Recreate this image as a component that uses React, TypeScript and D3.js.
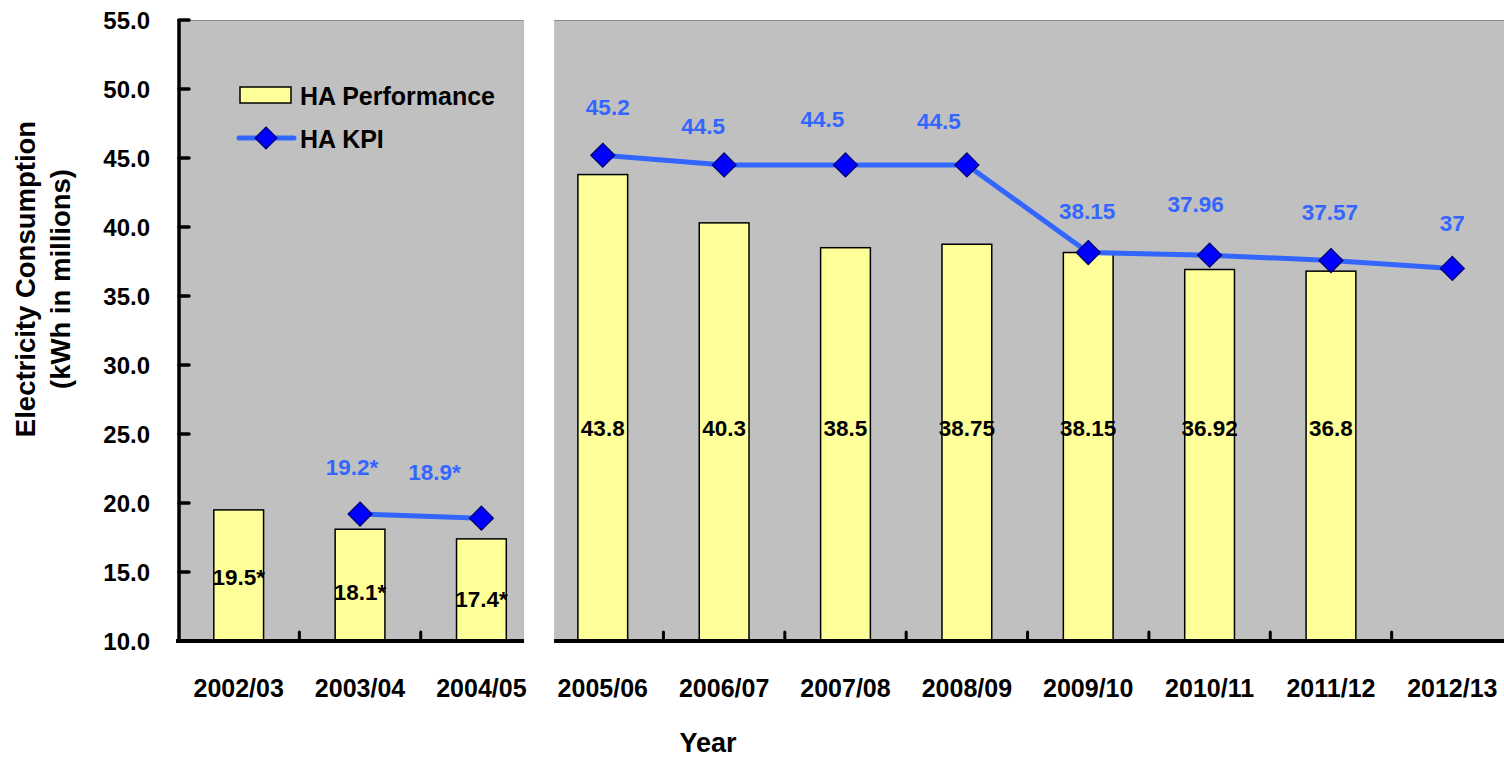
import { useEffect, useRef } from "react";
import * as d3 from "d3";

const W = 1504;
const H = 758;

const years = [
  "2002/03", "2003/04", "2004/05", "2005/06", "2006/07", "2007/08",
  "2008/09", "2009/10", "2010/11", "2011/12", "2012/13",
];
const performance = [19.5, 18.1, 17.4, 43.8, 40.3, 38.5, 38.75, 38.15, 36.92, 36.8, null];
const performanceLabels = ["19.5*", "18.1*", "17.4*", "43.8", "40.3", "38.5", "38.75", "38.15", "36.92", "36.8", ""];
const kpi = [null, 19.2, 18.9, 45.2, 44.5, 44.5, 44.5, 38.15, 37.96, 37.57, 37];
const kpiLabels = ["", "19.2*", "18.9*", "45.2", "44.5", "44.5", "44.5", "38.15", "37.96", "37.57", "37"];
const yTicks = [10, 15, 20, 25, 30, 35, 40, 45, 50, 55];

// the old (starred) years and the new series are drawn as two separate panels
const splitAfter = 2;

// hand-placed label offsets, as in the source chart
const kpiNudge: [number, number][] = [
  [0, 0], [-8, -47], [-47, -46], [5, -48], [-21, -39], [-23, -46],
  [-28, -44], [-1, -41], [-14, -51], [-1, -48], [0, -45],
];

const FONT = "'Liberation Sans', Arial, sans-serif";
const BLUE = "#3366FF";

export default function App() {
  const ref = useRef<SVGSVGElement | null>(null);

  useEffect(() => {
    const svg = d3.select(ref.current);
    svg.selectAll("*").remove();

    const left = 178;
    const top = 20;
    const bottom = 641;

    const x = d3.scaleBand<string>().domain(years).range([left, 1513]).padding(0);
    const y = d3.scaleLinear().domain([10, 55]).range([bottom, top]);
    const cx = (i: number) => (x(years[i]) ?? 0) + x.bandwidth() / 2;
    const barW = x.bandwidth() * 0.41;

    const g = svg.append("g").attr("font-family", FONT).attr("font-weight", "bold");

    // plot background
    g.append("rect")
      .attr("x", left)
      .attr("y", top)
      .attr("width", W - left)
      .attr("height", bottom - top)
      .attr("fill", "#C0C0C0");
    g.append("line")
      .attr("x1", left)
      .attr("x2", W)
      .attr("y1", top + 0.5)
      .attr("y2", top + 0.5)
      .attr("stroke", "#8c8c8c")
      .attr("stroke-width", 1);

    // bars
    performance.forEach((v, i) => {
      if (v == null) return;
      g.append("rect")
        .attr("x", cx(i) - barW / 2)
        .attr("y", y(v))
        .attr("width", barW)
        .attr("height", bottom - y(v))
        .attr("fill", "#FFFF99")
        .attr("stroke", "#000")
        .attr("stroke-width", 1.5);
    });

    // KPI line, broken between the two panels
    const line = d3
      .line<number | null>()
      .defined((d) => d != null)
      .x((_, i) => cx(i))
      .y((d) => y(d as number));
    const segs = [
      kpi.map((d, i) => (i <= splitAfter ? d : null)),
      kpi.map((d, i) => (i > splitAfter ? d : null)),
    ];
    segs.forEach((s) => {
      g.append("path")
        .attr("d", line(s) ?? "")
        .attr("fill", "none")
        .attr("stroke", BLUE)
        .attr("stroke-width", 5);
    });

    const diamond = (px: number, py: number, r: number) =>
      `M${px},${py - r}L${px + r},${py}L${px},${py + r}L${px - r},${py}Z`;

    kpi.forEach((v, i) => {
      if (v == null) return;
      g.append("path")
        .attr("d", diamond(cx(i), y(v), 12))
        .attr("fill", "#0000FF")
        .attr("stroke", "#000066")
        .attr("stroke-width", 1.2);
    });

    // bar labels
    performance.forEach((v, i) => {
      if (v == null) return;
      const ly = i <= splitAfter ? y(v * 0.75) : y(25.4);
      g.append("text")
        .attr("x", cx(i))
        .attr("y", ly)
        .attr("dy", "0.35em")
        .attr("text-anchor", "middle")
        .attr("font-size", 22.5)
        .attr("fill", "#000")
        .text(performanceLabels[i]);
    });

    // KPI labels
    kpi.forEach((v, i) => {
      if (v == null) return;
      g.append("text")
        .attr("x", cx(i) + kpiNudge[i][0])
        .attr("y", y(v) + kpiNudge[i][1])
        .attr("dy", "0.35em")
        .attr("text-anchor", "middle")
        .attr("font-size", 22.5)
        .attr("fill", BLUE)
        .text(kpiLabels[i]);
    });

    // x axis
    g.append("line")
      .attr("x1", left - 2)
      .attr("x2", W)
      .attr("y1", bottom)
      .attr("y2", bottom)
      .attr("stroke", "#000")
      .attr("stroke-width", 4);
    years.slice(1).forEach((yr) => {
      const tx = x(yr) ?? 0;
      g.append("line")
        .attr("x1", tx)
        .attr("x2", tx)
        .attr("y1", bottom)
        .attr("y2", bottom - 9)
        .attr("stroke", "#000")
        .attr("stroke-width", 3)
        .attr("stroke-linecap", "round");
    });
    years.forEach((yr, i) => {
      g.append("text")
        .attr("x", cx(i))
        .attr("y", 688)
        .attr("dy", "0.35em")
        .attr("text-anchor", "middle")
        .attr("font-size", 25)
        .text(yr);
    });

    // y axis
    g.append("line")
      .attr("x1", left + 1)
      .attr("x2", left + 1)
      .attr("y1", top - 1)
      .attr("y2", bottom + 2)
      .attr("stroke", "#000")
      .attr("stroke-width", 3.5);
    yTicks.forEach((t) => {
      g.append("line")
        .attr("x1", left + 1)
        .attr("x2", left + 11)
        .attr("y1", y(t))
        .attr("y2", y(t))
        .attr("stroke", "#000")
        .attr("stroke-width", 3.5)
        .attr("stroke-linecap", "round");
      g.append("text")
        .attr("x", 150)
        .attr("y", y(t))
        .attr("dy", "0.36em")
        .attr("text-anchor", "end")
        .attr("font-size", 24)
        .text(d3.format(".1f")(t));
    });

    // white gap splitting the panels
    const gapX = (x(years[splitAfter + 1]) ?? 0) - 18;
    g.append("rect")
      .attr("x", gapX)
      .attr("y", 0)
      .attr("width", 30)
      .attr("height", bottom + 6)
      .attr("fill", "#fff");

    // axis titles
    const yt = g
      .append("text")
      .attr("transform", "translate(0,279) rotate(-90)")
      .attr("text-anchor", "middle")
      .attr("font-size", 27.5);
    yt.append("tspan").attr("x", 0).attr("y", 35).text("Electricity Consumption");
    yt.append("tspan").attr("x", 0).attr("y", 70).text("(kWh in millions)");

    g.append("text")
      .attr("x", 708)
      .attr("y", 752)
      .attr("text-anchor", "middle")
      .attr("font-size", 27)
      .text("Year");

    // legend
    const lg = g.append("g");
    lg.append("rect")
      .attr("x", 240)
      .attr("y", 87)
      .attr("width", 51)
      .attr("height", 16)
      .attr("fill", "#FFFF99")
      .attr("stroke", "#000")
      .attr("stroke-width", 1.5);
    lg.append("text")
      .attr("x", 300)
      .attr("y", 96)
      .attr("dy", "0.35em")
      .attr("font-size", 25)
      .text("HA Performance");
    lg.append("line")
      .attr("x1", 239)
      .attr("x2", 294)
      .attr("y1", 138)
      .attr("y2", 138)
      .attr("stroke", BLUE)
      .attr("stroke-width", 5)
      .attr("stroke-linecap", "round");
    lg.append("path")
      .attr("d", diamond(266, 138, 11))
      .attr("fill", "#0000FF")
      .attr("stroke", "#000066")
      .attr("stroke-width", 1.2);
    lg.append("text")
      .attr("x", 300)
      .attr("y", 139)
      .attr("dy", "0.35em")
      .attr("font-size", 25)
      .text("HA KPI");
  }, []);

  return (
    <svg
      ref={ref}
      width={W}
      height={H}
      viewBox={`0 0 ${W} ${H}`}
      style={{ position: "absolute", left: 0, top: 0, background: "#fff" }}
    />
  );
}
